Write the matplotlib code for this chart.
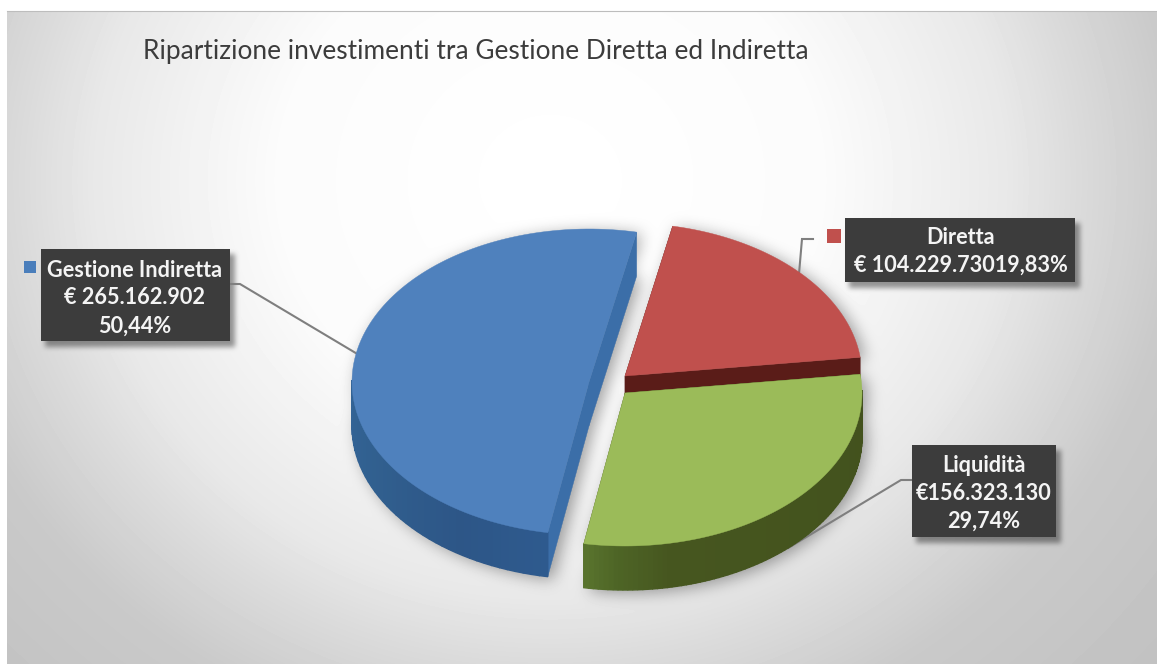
import numpy as np
import matplotlib
matplotlib.use("Agg")
import matplotlib.pyplot as plt
from matplotlib.patches import Polygon, Rectangle
from matplotlib.path import Path

# ---- data ----
categories = ["Diretta", "Liquidità", "Gestione Indiretta"]
values = [104229730, 156323130, 265162902]
label_texts = ["Diretta\n€ 104.229.73019,83%",
               "Liquidità\n€156.323.130\n29,74%",
               "Gestione Indiretta\n€ 265.162.902\n50,44%"]
title_text = "Ripartizione investimenti tra Gestione Diretta ed Indiretta"
top_colors = ["#C0504D", "#9BBB59", "#4F81BD"]
legend_colors = ["#C0504D", None, "#4A7EBB"]

# ---- layout / style ----
W, H = 1157, 664
RX, RY, DEPTH = 237, 153, 44
START = 11.6
apexes = [(625, 376), (625, 393), (589, 382)]
boxes = [(845, 218, 230, 64), (912, 445, 144, 92), (41, 249, 189, 92)]
text_centres = [(961, 251), (984, 493), (135, 298)]
marks = [(827, 229, 14), None, (24, 261, 12)]
elbows = [[(813, 239), (802, 239)], [(912, 480), (901, 480)], [(230, 284), (240, 284)]]
rim_ramps = [
    [(0, "#5A1C18"), (1, "#5A1C18")],
    [(0, "#42511D"), (0.8, "#46561F"), (0.92, "#4E6526"), (1, "#5A752E")],
    [(0, "#2E5A8E"), (0.12, "#2D5687"), (0.3, "#31608F"), (0.65, "#36679F"), (1, "#3B6EA9")],
]
cut_colors = ["#5A1C18", "#46561F", "#3B6EA8"]

fractions = np.array(values, dtype=float) / np.sum(values)
edges = START + 360 * np.concatenate([[0], np.cumsum(fractions)])


def rim(apex, a, b, n=120, drop=0):
    t = np.radians(np.linspace(a, b, n))
    return np.column_stack([apex[0] + RX * np.sin(t), apex[1] - RY * np.cos(t) + drop])


def wedge(apex, a, b, drop=0):
    return np.vstack([[apex[0], apex[1] + drop], rim(apex, a, b, drop=drop)])


def lerp_color(ramp, u):
    ps = [p for p, _ in ramp]
    rgb = np.array([matplotlib.colors.to_rgb(c) for _, c in ramp])
    return tuple(np.interp(u, ps, rgb[:, i]) for i in range(3))


def blur(a, r, passes=3):
    for axis in (0, 1):
        for _ in range(passes):
            pad = [(0, 0), (0, 0)]
            pad[axis] = (r + 1, r)
            c = np.cumsum(np.pad(a, pad, mode="edge"), axis=axis)
            if axis == 0:
                a = (c[2 * r + 1:, :] - c[:-2 * r - 1, :]) / (2 * r + 1)
            else:
                a = (c[:, 2 * r + 1:] - c[:, :-2 * r - 1]) / (2 * r + 1)
    return a


# ---- background ----
yy, xx = np.mgrid[0:H, 0:W]
d = np.hypot((xx - 550) / 610, (yy - 180) / 560)
bg = np.interp(d, [0, 0.45, 0.75, 0.86, 1.03, 1.3], [1.0, 0.985, 0.91, 0.86, 0.79, 0.76])
pts = np.column_stack([xx.ravel() + 0.5, yy.ravel() + 0.5])
mask = np.zeros((H, W))
for i, apex in enumerate(apexes):
    a, b = edges[i], edges[i + 1]
    for drop in (0, DEPTH):
        m = Path(wedge((apex[0] + 5, apex[1] + 3), a, b, drop)).contains_points(pts)
        mask = np.maximum(mask, m.reshape(H, W))
shade = blur(mask, 7) * 0.36
bm = np.zeros((H, W))
for x, y, w, h in boxes:
    bm[y + 5:y + h + 6, x + 4:x + w + 5] = 1
shade = np.maximum(shade, blur(bm, 2) * 0.40)
bg = bg * (1 - shade)
bg[:11, :] = 1.0
bg[:, :7] = 1.0

fig = plt.figure(figsize=(W / 100, H / 100), dpi=100, facecolor="white")
ax = fig.add_axes([0, 0, 1, 1])
ax.set_xlim(0, W)
ax.set_ylim(H, 0)
ax.axis("off")
ax.imshow(bg, cmap="gray", vmin=0, vmax=1, extent=(0, W, H, 0), aspect="auto",
          interpolation="bilinear", zorder=0)
ax.plot([7, W], [11, 11], color="#BDBDBD", lw=0.8, zorder=1)

# ---- leader lines (end on each slice's mid-angle) ----
for i, apex in enumerate(apexes):
    mid = np.radians((edges[i] + edges[i + 1]) / 2)
    px = apex[0] + RX * np.sin(mid)
    py = apex[1] - RY * np.cos(mid) + (DEPTH if np.cos(mid) < -0.2 and np.sin(mid) > 0 else 0)
    line = elbows[i] + [(px, py)]
    ax.plot(*zip(*line), color="#7F7F7F", lw=1.5, zorder=2, solid_joinstyle="miter")

# ---- pie ----
for i, apex in enumerate(apexes):
    a, b = edges[i], edges[i + 1]
    z = 3 + i * 0.1
    start_pt, end_pt = rim(apex, a, a, 1)[0], rim(apex, b, b, 1)[0]
    # flat cut faces
    for p in (start_pt, end_pt):
        ax.add_patch(Polygon([apex, p, p + [0, DEPTH], (apex[0], apex[1] + DEPTH)],
                             fc=cut_colors[i], ec=cut_colors[i], lw=0.3, zorder=z))
    # curved outer wall
    n = 90
    ang = np.linspace(a, b, n + 1)
    for k in range(n):
        if np.cos(np.radians((ang[k] + ang[k + 1]) / 2)) > 0.02:
            continue
        u = k / n
        r = rim(apex, ang[k], ang[k + 1], 2)
        c = lerp_color(rim_ramps[i], u)
        ax.add_patch(Polygon([r[0], r[1], r[1] + [0, DEPTH], r[0] + [0, DEPTH]],
                             fc=c, ec=c, lw=1.0, zorder=z + 0.01))
    ax.add_patch(Polygon(wedge(apex, a, b), fc=top_colors[i], ec=top_colors[i], lw=0.3, zorder=z + 0.02))

# ---- labels ----
for i, (x, y, w, h) in enumerate(boxes):
    ax.add_patch(Rectangle((x, y), w, h, fc="#3C3C3C", ec="none", zorder=5))
    ax.text(*text_centres[i], label_texts[i], ha="center", va="center", color="#F4F4F4",
            family="Lato", weight="bold", fontsize=15.6, linespacing=1.41, zorder=6)
    if marks[i]:
        mx, my, ms = marks[i]
        ax.add_patch(Rectangle((mx, my), ms, ms, fc=legend_colors[i], ec="none", zorder=5))

ax.text(143, 52, title_text, ha="left", va="center", color="#3C3C3C",
        family="Lato", fontsize=18.9, zorder=6)

fig.savefig("out.png", dpi=100, facecolor="white")
